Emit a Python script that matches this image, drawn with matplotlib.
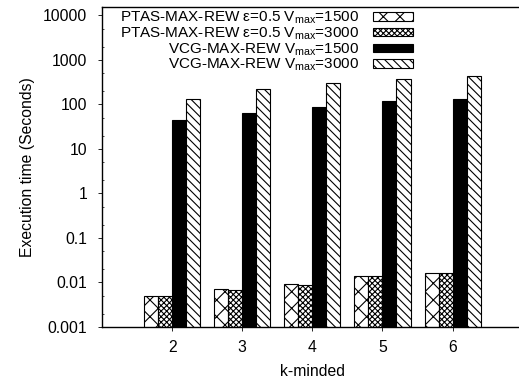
import matplotlib
matplotlib.use("Agg")
import matplotlib.pyplot as plt
import numpy as np
from matplotlib.ticker import FixedLocator, FixedFormatter, LogLocator, NullFormatter

plt.rcParams['font.family'] = ['Liberation Sans', 'DejaVu Sans']
plt.rcParams['mathtext.fontset'] = 'custom'
plt.rcParams['mathtext.rm'] = 'Liberation Sans'
plt.rcParams['mathtext.it'] = 'Liberation Sans:italic'
plt.rcParams['hatch.linewidth'] = 0.8

# ---- data ----
k_values = [2, 3, 4, 5, 6]
ptas_1500 = [0.0049, 0.0071, 0.0092, 0.0139, 0.0163]
ptas_3000 = [0.0049, 0.0068, 0.0087, 0.0139, 0.0163]
vcg_1500 = [44, 66, 87, 119, 131]
vcg_3000 = [131, 224, 305, 375, 447]
series_labels = [
    "PTAS-MAX-REW ε=0.5 V$_{\\mathrm{max}}$=1500",
    "PTAS-MAX-REW ε=0.5 V$_{\\mathrm{max}}$=3000",
    "VCG-MAX-REW V$_{\\mathrm{max}}$=1500",
    "VCG-MAX-REW V$_{\\mathrm{max}}$=3000",
]
ytick_values = [0.001, 0.01, 0.1, 1, 10, 100, 1000, 10000]
ytick_labels = ["0.001", "0.01", "0.1", "1", "10", "100", "1000", "10000"]

W, H = 519, 382
fig = plt.figure(figsize=(W / 100, H / 100), dpi=100)
ax = fig.add_axes([102 / W, 1 - 327 / H, 420.7 / W, 320 / H])

series = [ptas_1500, ptas_3000, vcg_1500, vcg_3000]
styles = [
    dict(facecolor='white', hatch='xx'),
    dict(facecolor='white', hatch='xxxxxx'),
    dict(facecolor='black', hatch=None),
    dict(facecolor='white', hatch='\\\\\\\\'),
]
width = 0.2
x = np.array(k_values, dtype=float)
for i, (vals, st, lab) in enumerate(zip(series, styles, series_labels)):
    ax.bar(x + (i - 1.5) * width, vals, width, bottom=0.0001, label=lab,
           edgecolor='black', linewidth=0.8, **st)

ax.set_yscale('log')
ax.set_ylim(0.001, 10 ** 4.19)
ax.set_xlim(1, 7)
ax.yaxis.set_major_locator(FixedLocator(ytick_values))
ax.yaxis.set_major_formatter(FixedFormatter(ytick_labels))
ax.yaxis.set_minor_locator(LogLocator(base=10, subs=(2, 5)))
ax.yaxis.set_minor_formatter(NullFormatter())
ax.set_xticks(k_values)
ax.set_xticklabels([str(k) for k in k_values])

ax.tick_params(axis='both', labelsize=11.3, length=3, width=0.6, direction='out')
ax.tick_params(axis='x', pad=6)
ax.tick_params(axis='y', which='major', pad=7.5)
ax.tick_params(axis='y', which='minor', length=1.5, width=0.5, direction='in')
ax.tick_params(axis='x', which='minor', bottom=False)
for s in ax.spines.values():
    s.set_linewidth(1.0)

ax.set_xlabel('k-minded', fontsize=11.3, labelpad=7)
ax.set_ylabel('Execution time (Seconds)', fontsize=11.3, labelpad=6)

leg = ax.legend(loc='upper right', bbox_to_anchor=(413 / W, 1 - 10 / H),
                bbox_transform=fig.transFigure, frameon=False, markerfirst=False,
                fontsize=11, handlelength=2.6, handleheight=0.45, handletextpad=0.9,
                labelspacing=-0.05, borderpad=0, borderaxespad=0)
for col in leg._legend_handle_box.get_children():
    col.align = 'right'

fig.savefig('out.png', dpi=100)
